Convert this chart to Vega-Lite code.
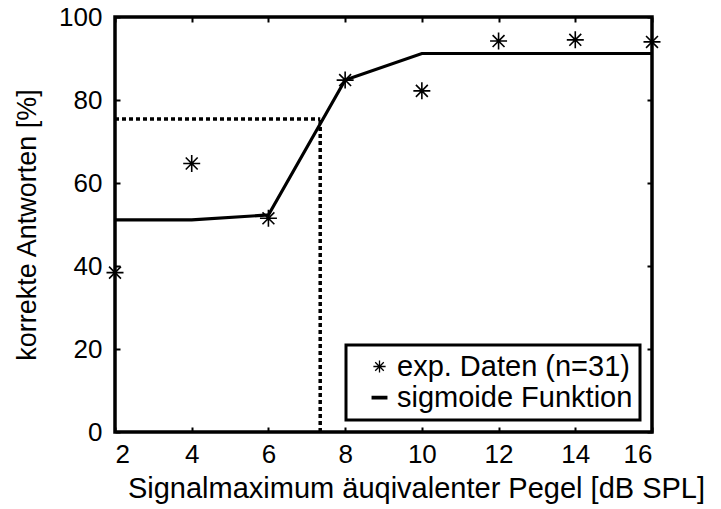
{
  "$schema": "https://vega.github.io/schema/vega-lite/v6.json",
  "width": 537,
  "height": 415,
  "autosize": {"type": "none"},
  "padding": {"left": 115, "top": 17, "right": 69, "bottom": 77},
  "background": "white",
  "config": {
    "font": "Liberation Sans",
    "view": {"stroke": "black", "strokeWidth": 3.5},
    "legend": {"strokeWidth": 3, "strokeColor": "black"},
    "axis": {
      "grid": false,
      "domain": false,
      "tickColor": "black",
      "tickWidth": 2,
      "tickSize": -5,
      "labelColor": "black",
      "labelFont": "Liberation Sans",
      "labelFontSize": 26,
      "titleFont": "Liberation Sans",
      "titleFontSize": 27,
      "titleFontWeight": "normal",
      "titleColor": "black"
    }
  },
  "datasets": {
    "exp": [
      {"pegel": 2, "prozent": 38.4, "serie": "exp. Daten (n=31)"},
      {"pegel": 4, "prozent": 64.7, "serie": "exp. Daten (n=31)"},
      {"pegel": 6, "prozent": 51.5, "serie": "exp. Daten (n=31)"},
      {"pegel": 8, "prozent": 84.8, "serie": "exp. Daten (n=31)"},
      {"pegel": 10, "prozent": 82.2, "serie": "exp. Daten (n=31)"},
      {"pegel": 12, "prozent": 94.2, "serie": "exp. Daten (n=31)"},
      {"pegel": 14, "prozent": 94.5, "serie": "exp. Daten (n=31)"},
      {"pegel": 16, "prozent": 94.0, "serie": "exp. Daten (n=31)"}
    ],
    "sig": [
      {"pegel": 2, "prozent": 51.1},
      {"pegel": 4, "prozent": 51.1},
      {"pegel": 6, "prozent": 52.3},
      {"pegel": 8, "prozent": 84.8},
      {"pegel": 10, "prozent": 91.2},
      {"pegel": 12, "prozent": 91.2},
      {"pegel": 14, "prozent": 91.2},
      {"pegel": 16, "prozent": 91.2}
    ],
    "guide": [
      {"xa": 2, "xb": 7.35, "ya": 75.4, "yb": 75.4},
      {"xa": 7.35, "xb": 7.35, "ya": 0, "yb": 75.4}
    ]
  },
  "layer": [
    {
      "data": {"name": "guide"},
      "mark": {"type": "rule", "color": "black", "strokeWidth": 3.5, "strokeDash": [4, 3]},
      "encoding": {
        "x": {"field": "xa", "type": "quantitative",
              "scale": {"domain": [2, 16], "nice": false, "zero": false},
              "axis": {"values": [2, 4, 6, 8, 10, 12, 14, 16], "title": "Signalmaximum äuqivalenter Pegel [dB SPL]", "titleFontSize": 29, "titleX": 301, "labelPadding": 14, "titlePadding": 7, "orient": "bottom"}},
        "x2": {"field": "xb"},
        "y": {"field": "ya", "type": "quantitative",
              "scale": {"domain": [0, 100], "nice": false},
              "axis": {"values": [0, 20, 40, 60, 80, 100], "title": "korrekte Antworten [%]", "labelPadding": 18, "titlePadding": 17, "orient": "left"}},
        "y2": {"field": "yb"}
      }
    },
    {
      "data": {"name": "sig"},
      "mark": {"type": "line", "color": "black", "strokeWidth": 3.2},
      "encoding": {
        "x": {"field": "pegel", "type": "quantitative",
              "axis": {"values": [2, 4, 6, 8, 10, 12, 14, 16], "orient": "top", "labels": false, "title": null}},
        "y": {"field": "prozent", "type": "quantitative",
              "axis": {"values": [0, 20, 40, 60, 80, 100], "orient": "right", "labels": false, "title": null}}
      }
    },
    {
      "data": {"name": "exp"},
      "mark": {"type": "point", "filled": false, "stroke": "black", "strokeWidth": 1.6, "size": 289, "clip": false, "opacity": 1},
      "encoding": {
        "x": {"field": "pegel", "type": "quantitative", "axis": null},
        "y": {"field": "prozent", "type": "quantitative", "axis": null},
        "shape": {
          "field": "serie",
          "type": "nominal",
          "scale": {
            "domain": ["exp. Daten (n=31)", "sigmoide Funktion"],
            "range": ["M-1,0H1M0,-1V1M-0.7,-0.7L0.7,0.7M-0.7,0.7L0.7,-0.7", "M-1.3,-0.2H1.3M-1.3,0H1.3M-1.3,0.2H1.3"]
          },
          "legend": {
            "title": null,
            "orient": "bottom-right",
            "offset": 12,
            "fillColor": "white",
            "padding": 7,
            "rowPadding": 1,
            "labelFont": "Liberation Sans",
            "labelFontSize": 29,
            "labelColor": "black",
            "labelLimit": 0,
            "labelOffset": 3,
            "symbolOffset": 12,
            "symbolSize": 150,
            "symbolStrokeColor": "black",
            "symbolStrokeWidth": 1.3
          }
        }
      }
    }
  ],
  "resolve": {"axis": {"x": "independent", "y": "independent"}}
}
